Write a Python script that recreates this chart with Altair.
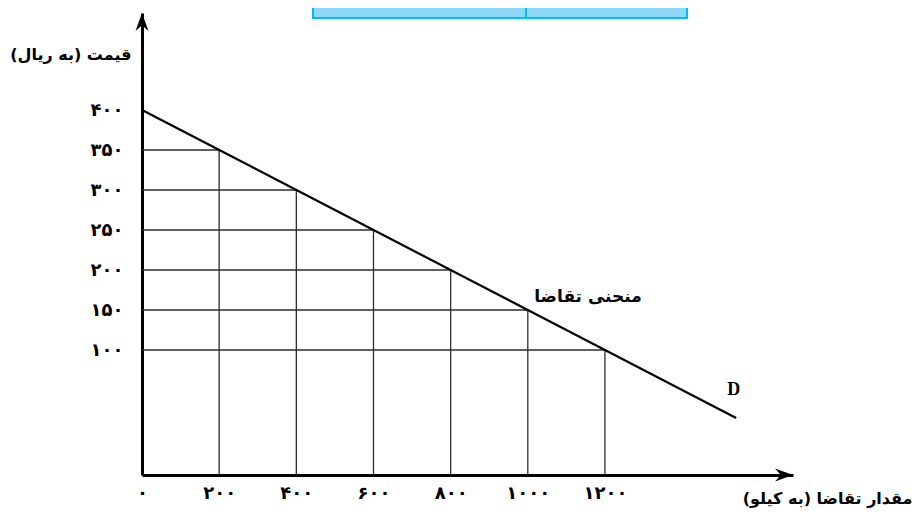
import json
import altair as alt
import pandas as pd

# ---- data ----
quantities = [200, 400, 600, 800, 1000, 1200]
prices = [350, 300, 250, 200, 150, 100]
demand_q = [0, 1540]
demand_p = [400, 15]
x_ticks = [0, 200, 400, 600, 800, 1000, 1200]
x_tick_labels = ["۰", "۲۰۰", "۴۰۰", "۶۰۰", "۸۰۰", "۱۰۰۰", "۱۲۰۰"]
y_ticks = [100, 150, 200, 250, 300, 350, 400]
y_tick_labels = ["۱۰۰", "۱۵۰", "۲۰۰", "۲۵۰", "۳۰۰", "۳۵۰", "۴۰۰"]
RLM = "\u200f"
x_title = RLM + "مقدار تقاضا (به کیلو)" + RLM
y_title = RLM + "قیمت (به ریال)" + RLM
curve_label = "منحنی تقاضا"
curve_letter = "D"

# ---- scale set-up ----
W, H = 651, 462
X_MAX = 1687.4
Y_MIN, Y_MAX = -56.25, 521.25
XS = alt.Scale(domain=[0, X_MAX], nice=False, zero=False)
YS = alt.Scale(domain=[Y_MIN, Y_MAX], nice=False, zero=False)
FA = "DejaVu Sans"


def label_expr(ticks, labels):
    return f"{json.dumps(labels, ensure_ascii=False)}[indexof({json.dumps(ticks)}, datum.value)]"


grid = pd.DataFrame({"q": quantities, "p": prices})
grid["zero"] = 0
grid["base"] = Y_MIN

x_axis = alt.Axis(
    values=x_ticks, labelExpr=label_expr(x_ticks, x_tick_labels),
    ticks=False, tickSize=0, grid=False, domainWidth=3, domainColor="black",
    labelFont=FA, labelFontSize=18, labelFontWeight="bold", labelColor="black",
    labelPadding=9, labelFlush=False, labelOverlap=False,
    title=x_title, titleX=770, titleY=23, titleAlign="right", titleBaseline="middle",
    titleFont=FA, titleFontSize=16, titleFontWeight="bold", titleColor="black",
)
y_axis = alt.Axis(
    values=y_ticks, labelExpr=label_expr(y_ticks, y_tick_labels),
    ticks=False, tickSize=0, grid=False, domainWidth=3, domainColor="black",
    labelFont=FA, labelFontSize=18, labelFontWeight="bold", labelColor="black",
    labelPadding=19, labelFlush=False, labelOverlap=False,
    title=y_title, titleAngle=0, titleX=-11, titleY=41, titleAlign="right",
    titleBaseline="middle", titleFont=FA, titleFontSize=16, titleFontWeight="bold",
    titleColor="black",
)


def X(field):
    return alt.X(field, scale=XS, axis=x_axis)


def Y(field):
    return alt.Y(field, scale=YS, axis=y_axis)


hlines = alt.Chart(grid).mark_rule(color="#2b2b2b", strokeWidth=1.3).encode(
    x=X("zero:Q"), x2="q:Q", y=Y("p:Q"),
)
vlines = alt.Chart(grid).mark_rule(color="#2b2b2b", strokeWidth=1.3).encode(
    x=X("q:Q"), y=Y("base:Q"), y2="p:Q",
)

demand = alt.Chart(pd.DataFrame({"q": demand_q, "p": demand_p})).mark_line(
    color="black", strokeWidth=2.2
).encode(x=X("q:Q"), y=Y("p:Q"))

UP = "M0,0 L0.72,2 L0,1.35 L-0.72,2 Z"
RIGHT = "M0,0 L-2,0.72 L-1.35,0 L-2,-0.72 Z"
arrow_up = alt.Chart(pd.DataFrame({"q": [0], "p": [Y_MAX]})).mark_point(
    shape=UP, filled=True, color="black", opacity=1, size=324
).encode(x=X("q:Q"), y=Y("p:Q"))
arrow_right = alt.Chart(pd.DataFrame({"q": [X_MAX], "p": [Y_MIN]})).mark_point(
    shape=RIGHT, filled=True, color="black", opacity=1, size=324
).encode(x=X("q:Q"), y=Y("p:Q"))

lbl = alt.Chart(pd.DataFrame({"q": [1156], "p": [166], "t": [curve_label]})).mark_text(
    font=FA, fontSize=17, fontWeight="bold", color="black", baseline="middle", align="center"
).encode(x=X("q:Q"), y=Y("p:Q"), text="t:N")
dlbl = alt.Chart(pd.DataFrame({"q": [1534], "p": [50], "t": [curve_letter]})).mark_text(
    font="Liberation Serif", fontSize=18, fontWeight="bold", color="black",
    baseline="middle", align="center"
).encode(x=X("q:Q"), y=Y("p:Q"), text="t:N")

# cropped table fragment at the top of the page
box_src = pd.DataFrame({"k": [0]})
cell1 = alt.Chart(box_src).mark_rect(fill="#8dd7f6", stroke="#00bdf2", strokeWidth=2).encode(
    x=alt.value(171), x2=alt.value(384), y=alt.value(-13), y2=alt.value(5)
)
cell2 = alt.Chart(box_src).mark_rect(fill="#8dd7f6", stroke="#00bdf2", strokeWidth=2).encode(
    x=alt.value(384), x2=alt.value(545), y=alt.value(-13), y2=alt.value(5)
)

chart = alt.layer(
    cell1, cell2, hlines, vlines, demand, arrow_up, arrow_right, lbl, dlbl
).properties(
    width=W, height=H,
    background="white",
    autosize=alt.AutoSizeParams(type="none"),
    padding={"left": 134, "top": 5, "right": 123, "bottom": 33},
).configure_view(strokeWidth=0, stroke=None)

chart.save("out.html", embed_options={"renderer": "svg", "actions": False})
